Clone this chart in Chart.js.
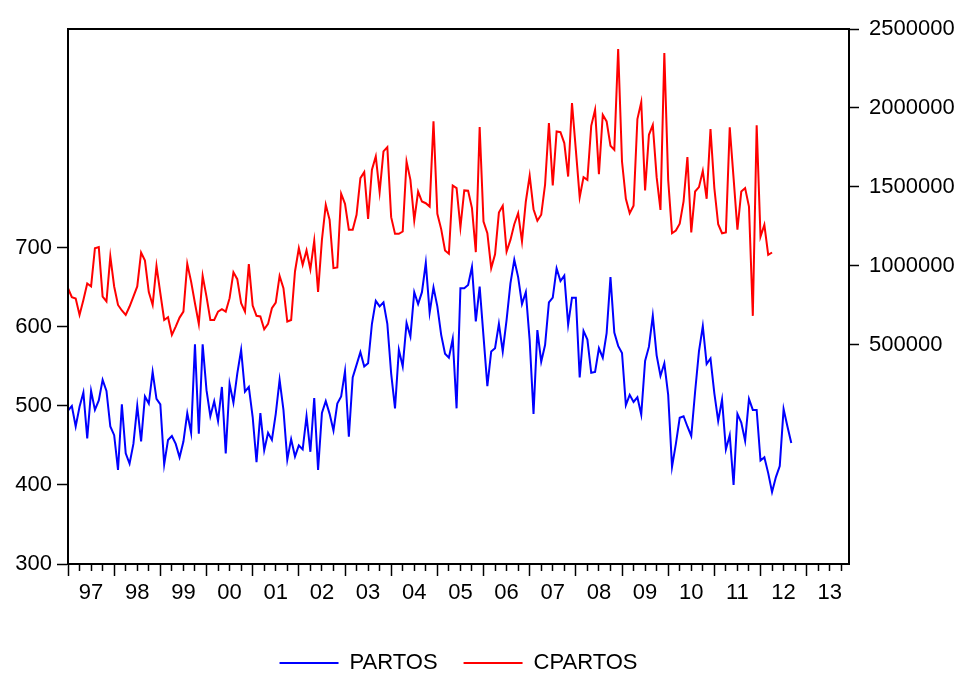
<!DOCTYPE html>
<html>
<head>
<meta charset="utf-8">
<script src="https://cdn.jsdelivr.net/npm/chart.js@4/dist/chart.umd.min.js"></script>
<style>
  html, body { margin: 0; padding: 0; background: #fff; overflow: hidden; }
  #wrap { width: 964px; height: 675px; position: relative; }
</style>
</head>
<body>
<div id="wrap"><canvas id="myChart"></canvas></div>
<script>
// monthly data, first observation 1997M01, x axis runs to 2013M12
const START_YEAR = 1997;
const N_MONTHS = 204;
const yearLabels = ['97','98','99','00','01','02','03','04','05','06','07','08','09','10','11','12','13'];

const partos = [
  494,500,474,499,517,459,519,495,507,533,519,474,
  463,419,502,440,427,452,500,455,512,503,543,509,
  502,426,457,462,452,435,455,491,466,578,465,578,
  520,487,506,481,524,440,528,504,541,571,518,524,
  486,429,491,444,466,457,490,533,495,432,458,436,
  450,445,487,442,510,419,491,506,490,469,503,512,
  544,461,536,552,568,550,554,604,633,626,631,604,
  541,497,571,550,605,588,644,629,644,681,618,650,
  626,590,566,561,585,497,649,649,653,676,607,651,
  588,525,569,573,604,569,609,655,685,663,629,644,
  583,490,596,556,577,631,637,674,658,665,603,637,
  637,536,595,584,542,543,573,561,592,663,593,576,
  567,501,514,505,511,489,557,575,614,564,538,554,
  514,423,452,485,487,474,462,518,569,601,553,560,
  516,481,508,445,463,400,490,479,456,509,495,495,
  431,435,415,391,410,424,496,474,453
];

const cpartos = [
  859000,802000,794000,690000,785000,889000,870000,1112000,1119000,806000,775000,1060000,
  870000,753000,718000,690000,743000,806000,870000,1085000,1034000,834000,753000,1000000,
  827000,658000,675000,563000,616000,673000,711000,1013000,901000,764000,633000,937000,
  806000,658000,658000,711000,726000,711000,796000,960000,916000,764000,711000,1011000,
  749000,684000,680000,599000,633000,732000,768000,937000,859000,648000,658000,965000,
  1112000,1007000,1098000,979000,1159000,836000,1165000,1387000,1292000,986000,990000,1457000,
  1393000,1229000,1229000,1324000,1556000,1594000,1298000,1609000,1693000,1467000,1725000,1752000,
  1309000,1203000,1203000,1218000,1661000,1545000,1288000,1471000,1408000,1397000,1376000,1915000,
  1330000,1233000,1098000,1077000,1509000,1493000,1245000,1478000,1476000,1366000,1087000,1879000,
  1281000,1207000,986000,1074000,1338000,1381000,1091000,1165000,1264000,1334000,1155000,1408000,
  1571000,1359000,1286000,1324000,1514000,1904000,1509000,1851000,1847000,1778000,1566000,2031000,
  1735000,1435000,1562000,1545000,1887000,1989000,1581000,1957000,1915000,1761000,1735000,2373000,
  1661000,1425000,1334000,1381000,1930000,2037000,1478000,1830000,1892000,1562000,1355000,2348000,
  1545000,1207000,1224000,1267000,1408000,1689000,1212000,1471000,1499000,1602000,1425000,1866000,
  1493000,1264000,1207000,1212000,1877000,1556000,1229000,1471000,1493000,1376000,684000,1890000,
  1186000,1260000,1070000,1085000
];

const leftTicks = [300, 400, 500, 600, 700];
const rightTicks = [500000, 1000000, 1500000, 2000000, 2500000];

const FONT = { family: "'Liberation Sans', Arial, sans-serif", size: 22 };

// box round the plot
const frame = {
  id: 'frame',
  afterDraw(chart) {
    const a = chart.chartArea, ctx = chart.ctx;
    ctx.save();
    ctx.strokeStyle = '#000';
    ctx.lineWidth = 2;
    ctx.strokeRect(a.left, a.top, a.right - a.left, a.bottom - a.top);
    ctx.restore();
  }
};

const toPoints = arr => arr.map((v, i) => ({ x: i, y: v }));

(() => {
  Chart.defaults.font = FONT;
  Chart.defaults.color = '#000';

  new Chart('myChart', {
    type: 'line',
    data: {
      datasets: [
        {
          label: 'PARTOS',
          data: toPoints(partos),
          borderColor: '#0000ff',
          backgroundColor: '#0000ff',
          borderWidth: 2,
          pointRadius: 0,
          tension: 0,
          yAxisID: 'y'
        },
        {
          label: 'CPARTOS',
          data: toPoints(cpartos),
          borderColor: '#ff0000',
          backgroundColor: '#ff0000',
          borderWidth: 2,
          pointRadius: 0,
          tension: 0,
          yAxisID: 'y1'
        }
      ]
    },
    options: {
      responsive: true,
      maintainAspectRatio: false,
      animation: false,
      layout: { padding: { top: 29, bottom: -9, left: 0, right: 0 } },
      plugins: {
        tooltip: { enabled: false },
        legend: {
          display: true,
          position: 'bottom',
          fullSize: false,
          labels: {
            usePointStyle: true,
            pointStyle: 'line',
            pointStyleWidth: 59,
            padding: 26,
            font: FONT,
            color: '#000'
          }
        }
      },
      scales: {
        x: {
          type: 'linear',
          position: 'bottom',
          min: 0,
          max: N_MONTHS - 1,
          afterBuildTicks: s => {
            const t = [];
            for (let i = 0; i < N_MONTHS - 1; i += 3) t.push({ value: i });
            s.ticks = t;
          },
          afterFit: s => { s.height = 62; },
          ticks: {
            autoSkip: false,
            maxRotation: 0,
            minRotation: 0,
            padding: 4,
            font: FONT,
            callback: v => (v % 12 === 6 ? yearLabels[(v - 6) / 12] : '')
          },
          grid: {
            display: true,
            drawOnChartArea: false,
            drawTicks: true,
            tickLength: 12,
            tickColor: '#000',
            tickWidth: 1.5,
            // quarters get a short mark, years a long one
            tickBorderDash: c => (c.tick && c.tick.value % 12 === 0 ? [] : [6, 30])
          },
          border: { display: true, color: '#000', width: 2 }
        },
        y: {
          type: 'linear',
          position: 'left',
          min: 300,
          max: 977,
          afterBuildTicks: s => { s.ticks = leftTicks.map(v => ({ value: v })); },
          afterFit: s => { s.width = 68; },
          ticks: { padding: 5, font: FONT, callback: v => String(v) },
          grid: { drawOnChartArea: false, tickLength: 11, tickColor: '#000', tickWidth: 1.5 },
          border: { display: true, color: '#000', width: 2 }
        },
        y1: {
          type: 'linear',
          position: 'right',
          min: -887000,
          max: 2500000,
          afterBuildTicks: s => { s.ticks = rightTicks.map(v => ({ value: v })); },
          afterFit: s => { s.width = 115; },
          ticks: { padding: 10, font: FONT, callback: v => String(v) },
          grid: { drawOnChartArea: false, tickLength: 10, tickColor: '#000', tickWidth: 1.5 },
          border: { display: true, color: '#000', width: 2 }
        }
      }
    },
    plugins: [frame]
  });
})();
</script>
</body>
</html>
